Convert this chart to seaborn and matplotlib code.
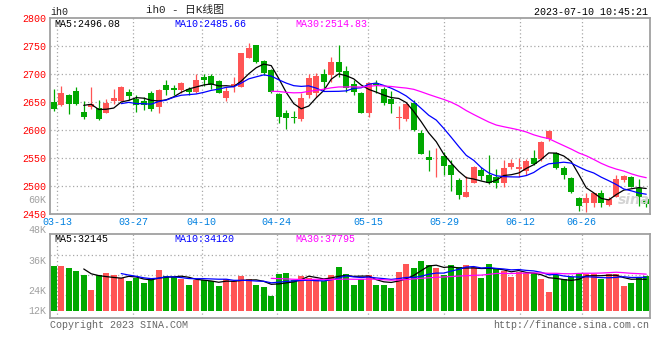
import numpy as np
import pandas as pd
import matplotlib
matplotlib.use("Agg")
import matplotlib.pyplot as plt
import seaborn as sns

# ---------------- data ----------------
opens = [2650.6, 2644.7, 2662.5, 2669.7, 2632.2, 2641.7, 2639.3, 2631.0, 2651.2, 2652.4,
         2667.9, 2654.8, 2652.4, 2666.7, 2641.7, 2680.4, 2675.0, 2671.5, 2672.7, 2668.5,
         2694.7, 2697.1, 2687.5, 2657.8, 2678.6, 2677.4, 2729.2, 2751.8, 2723.2, 2707.2,
         2664.3, 2629.8, 2622.7, 2619.1, 2662.5, 2666.7, 2700.0, 2697.7, 2722.0, 2705.4,
         2682.2, 2666.7, 2631.0, 2683.4, 2673.2, 2656.0, 2622.1, 2619.1, 2647.6, 2594.1,
         2551.2, 2544.1, 2553.6, 2537.5, 2510.7, 2481.0, 2506.0, 2528.6, 2519.7, 2515.5,
         2506.0, 2533.4, 2529.8, 2527.4, 2549.4, 2547.6, 2583.4, 2558.4, 2531.6, 2513.7,
         2478.0, 2469.1, 2470.3, 2486.9, 2466.1, 2481.0, 2510.7, 2515.5, 2495.9, 2476.2]
highs = [2673.2, 2678.6, 2663.5, 2676.0, 2651.8, 2677.4, 2653.6, 2654.8, 2673.2, 2678.0,
         2673.2, 2661.9, 2659.6, 2669.1, 2672.7, 2689.3, 2680.4, 2686.4, 2677.4, 2700.0,
         2699.4, 2700.6, 2689.3, 2676.2, 2694.1, 2738.0, 2754.8, 2752.4, 2725.0, 2708.4,
         2666.7, 2635.8, 2634.0, 2665.5, 2700.0, 2701.2, 2709.0, 2731.0, 2751.8, 2714.3,
         2689.3, 2668.5, 2686.3, 2689.3, 2676.2, 2669.7, 2642.9, 2648.8, 2654.0, 2600.0,
         2564.3, 2567.3, 2561.3, 2546.5, 2513.7, 2517.9, 2535.7, 2533.4, 2555.4, 2529.8,
         2546.5, 2547.6, 2549.4, 2547.6, 2564.3, 2581.0, 2600.0, 2561.3, 2535.7, 2515.5,
         2481.0, 2486.9, 2488.1, 2492.9, 2479.8, 2519.7, 2519.7, 2517.9, 2511.9, 2481.0]
lows = [2634.6, 2642.9, 2628.6, 2645.0, 2619.1, 2637.5, 2617.9, 2629.8, 2646.5, 2651.2,
        2653.6, 2632.8, 2635.8, 2634.6, 2631.0, 2662.5, 2661.9, 2665.5, 2661.9, 2666.7,
        2678.6, 2673.2, 2665.5, 2651.8, 2668.5, 2676.2, 2728.0, 2719.1, 2698.2, 2666.7,
        2613.1, 2602.4, 2613.1, 2616.7, 2656.6, 2659.6, 2672.7, 2686.3, 2695.3, 2668.5,
        2662.5, 2629.8, 2623.8, 2665.5, 2644.7, 2631.0, 2601.2, 2616.7, 2598.8, 2556.5,
        2527.4, 2516.7, 2519.7, 2491.7, 2476.2, 2480.5, 2504.8, 2510.7, 2503.6, 2495.9,
        2497.7, 2529.8, 2516.7, 2519.7, 2537.5, 2545.3, 2581.0, 2529.8, 2511.9, 2488.1,
        2456.0, 2454.2, 2461.9, 2461.9, 2464.3, 2479.8, 2507.8, 2497.7, 2464.3, 2461.9]
closes = [2637.5, 2666.7, 2646.5, 2646.5, 2623.2, 2646.5, 2620.3, 2648.8, 2657.2, 2677.4,
          2660.7, 2644.7, 2644.1, 2638.1, 2671.5, 2671.5, 2670.9, 2684.6, 2667.9, 2689.3,
          2689.3, 2680.4, 2666.7, 2669.7, 2682.2, 2737.5, 2745.9, 2720.9, 2702.4, 2667.9,
          2622.7, 2621.5, 2620.9, 2656.6, 2692.3, 2696.5, 2686.3, 2722.0, 2704.2, 2675.6,
          2668.5, 2631.0, 2683.4, 2679.8, 2648.8, 2646.5, 2623.3, 2646.5, 2600.0, 2557.2,
          2546.5, 2545.3, 2535.7, 2519.7, 2484.0, 2489.3, 2533.4, 2517.9, 2504.8, 2506.0,
          2531.6, 2540.5, 2533.4, 2545.3, 2539.3, 2579.2, 2598.2, 2531.6, 2519.7, 2489.9,
          2464.3, 2478.0, 2486.9, 2470.3, 2476.2, 2511.9, 2517.9, 2498.8, 2481.0, 2467.9]
volumes = [45800, 45500, 43800, 40700, 36400, 21500, 36400, 38700, 36400, 33000,
           30600, 33000, 28600, 32000, 41700, 35400, 34700, 32000, 26600, 31300,
           31300, 30300, 25600, 32300, 30300, 35700, 32700, 26300, 24600, 15500,
           37700, 38000, 31300, 35700, 33000, 31300, 30600, 36400, 44100, 37400,
           26300, 32000, 36400, 26300, 26300, 23200, 39400, 47500, 43400, 50500,
           46500, 43400, 36400, 46500, 44100, 46500, 44100, 33300, 47500, 42100,
           40700, 34300, 39700, 38000, 38700, 32300, 19200, 36400, 32000, 34700,
           37400, 37000, 37000, 32300, 37000, 37000, 25300, 28600, 33300, 35400]

date_labels = ["03-13", "03-27", "04-10", "04-24", "05-15", "05-29", "06-12", "06-26"]
price_ticks = [2450, 2500, 2550, 2600, 2650, 2700, 2750, 2800]
vol_tick_labels = ["48K", "36K", "24K", "12K"]
header_main = ["MA5:2496.08", "MA10:2485.66", "MA30:2514.83"]
header_vol = ["MA5:32145", "MA10:34120", "MA30:37795"]

# ---------------- layout constants ----------------
date_pos = [0.47, 10.61, 19.72, 29.72, 41.94, 52.08, 62.17, 70.39]
vol_label_py = [230, 260.5, 290.7, 310.7]   # pixel rows of the volume labels
vol_grid = [56560, 36360, 16160]

UP = "#FF5555"
DOWN = "#00A800"
GRID = "#A8A8A8"
FRAME = "#A0A0A0"

sns.set_style("white")
plt.rcParams["font.family"] = ["Liberation Mono", "Noto Sans CJK SC", "DejaVu Sans"]
FS = 7.2

df = pd.DataFrame({"open": opens, "high": highs, "low": lows, "close": closes, "vol": volumes})
df["idx"] = np.arange(len(df))
df["dir"] = np.where(df["close"] >= df["open"], "up", "down")
for n in (5, 10, 30):
    df[f"ma{n}"] = df["close"].rolling(n).mean()
    df[f"vma{n}"] = df["vol"].rolling(n).mean()
colors = [UP if d == "up" else DOWN for d in df["dir"]]

W, H = 660, 360
fig = plt.figure(figsize=(6.6, 3.6), dpi=100)
fig.patch.set_facecolor("white")
ax = fig.add_axes([50 / W, 1 - 214 / H, 600 / W, 196 / H])
axv = fig.add_axes([50 / W, 1 - 318 / H, 600 / W, 84 / H])


def px(x, y):
    return x / W, 1 - y / H


# ---- grid ----
dot = (0, (1, 2))
for p in price_ticks[1:-1]:
    ax.axhline(p, color=GRID, lw=0.9, ls=dot, zorder=0)
for xp in date_pos:
    ax.axvline(xp, color=GRID, lw=0.9, ls=dot, zorder=0)
    axv.axvline(xp, color=GRID, lw=0.9, ls=dot, zorder=0)
for g in vol_grid:
    axv.axhline(g, color=GRID, lw=0.9, ls=dot, zorder=0)

# ---- candles ----
body_bottom = np.minimum(df["open"], df["close"])
body_h = np.maximum((df["close"] - df["open"]).abs(), 1.0)
ax.vlines(df["idx"], df["low"], df["high"], colors=colors, lw=0.9, zorder=2)
ax.bar(df["idx"], body_h, bottom=body_bottom, width=0.8, color=colors, linewidth=0, zorder=3)

sns.lineplot(data=df, x="idx", y="ma5", ax=ax, color="black", lw=0.9, zorder=4)
sns.lineplot(data=df, x="idx", y="ma10", ax=ax, color="#0000FF", lw=0.9, zorder=4)
sns.lineplot(data=df, x="idx", y="ma30", ax=ax, color="#FF00FF", lw=0.9, zorder=4)

ax.set_xlim(-0.5, 79.5)
ax.set_ylim(2450, 2800)
ax.set_yticks(price_ticks)
ax.set_yticklabels([str(p) for p in price_ticks])
ax.set_xticks(date_pos)
ax.set_xticklabels(date_labels)
ax.tick_params(axis="y", length=0, pad=3, labelcolor="#FF0000", labelsize=FS)
ax.tick_params(axis="x", length=0, pad=2, labelcolor="#0080E0", labelsize=FS)
ax.set_xlabel("")
ax.set_ylabel("")

# ---- volume ----
axv.bar(df["idx"], df["vol"], width=0.8, color=colors, linewidth=0, zorder=2)
sns.lineplot(data=df, x="idx", y="vma5", ax=axv, color="black", lw=0.9, zorder=4)
sns.lineplot(data=df, x="idx", y="vma10", ax=axv, color="#0000FF", lw=0.9, zorder=4)
sns.lineplot(data=df, x="idx", y="vma30", ax=axv, color="#FF00FF", lw=0.9, zorder=4)
axv.set_xlim(-0.5, 79.5)
axv.set_ylim(-7070, 77770)
axv.set_xticks([])
axv.set_yticks([])
axv.set_xlabel("")
axv.set_ylabel("")

for a in (ax, axv):
    for s in a.spines.values():
        s.set_color(FRAME)
        s.set_linewidth(1.3)
        s.set_visible(True)

# ---- texts ----
for lab, yp in zip(vol_tick_labels, vol_label_py):
    fig.text(*px(46, yp), lab, ha="right", va="center", color="#A0A0A0", fontsize=FS)
fig.text(*px(46, 200), "60K", ha="right", va="center", color="#A0A0A0", fontsize=FS)

fig.text(*px(50, 12), "ih0", ha="left", va="center", fontsize=FS, color="#222222")
fig.text(*px(185, 10), "ih0 - 日K线图", ha="center", va="center", fontsize=7.8, color="#222222")
fig.text(*px(648, 12), "2023-07-10 10:45:21", ha="right", va="center", fontsize=FS, color="black")

hx = [54, 174, 295]
hc = ["black", "#0000FF", "#FF00FF"]
for t, x0, c in zip(header_main, hx, hc):
    fig.text(*px(x0, 24), t, ha="left", va="center", fontsize=FS, color=c)
for t, x0, c in zip(header_vol, hx, hc):
    fig.text(*px(x0, 238.5), t, ha="left", va="center", fontsize=FS, color=c)

fig.text(*px(50, 325), "Copyright 2023 SINA.COM", ha="left", va="center", fontsize=FS, color="#666666")
fig.text(*px(649, 325), "http://finance.sina.com.cn", ha="right", va="center", fontsize=FS, color="#666666")
fig.text(*px(634, 200), "sina", ha="center", va="center", fontsize=10, color="#D4D4D4",
         style="italic", weight="bold", family="DejaVu Sans", zorder=0)

fig.savefig("out.png", dpi=100, facecolor="white")
